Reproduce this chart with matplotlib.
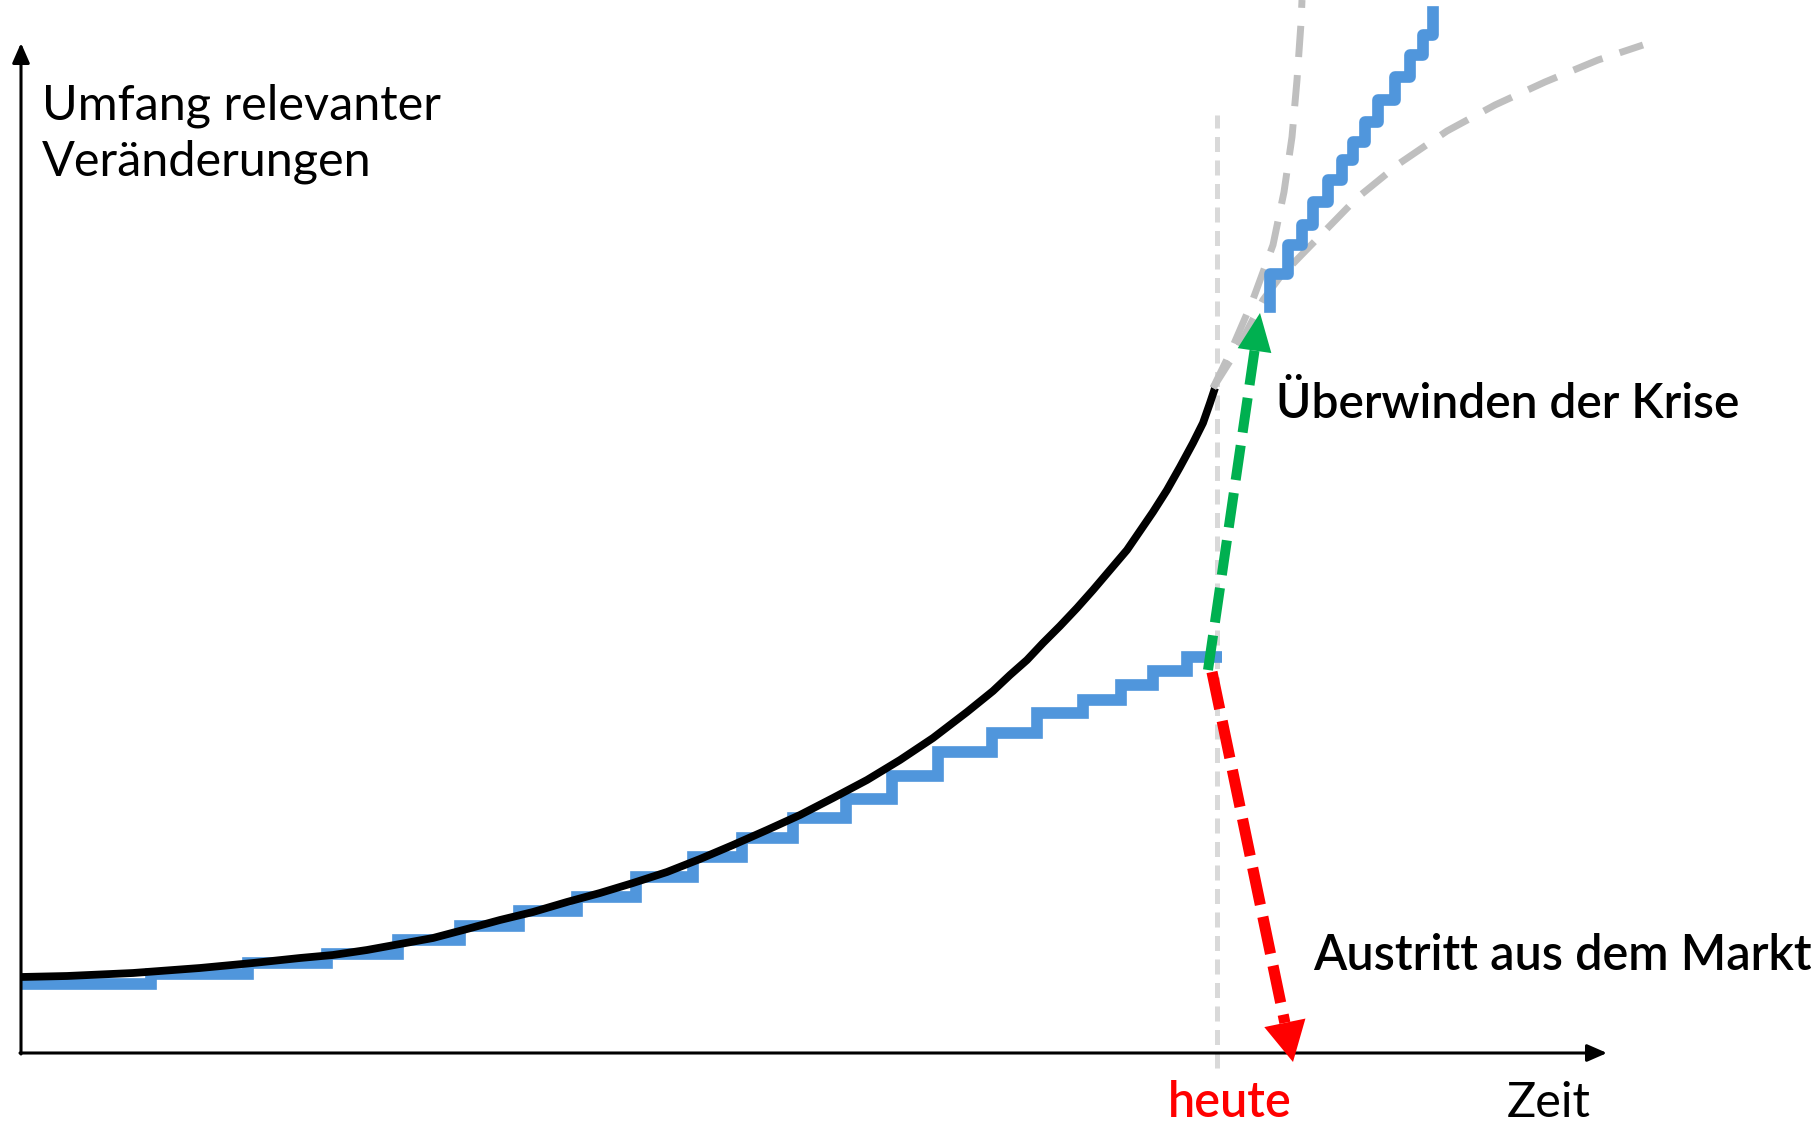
import matplotlib.pyplot as plt
from matplotlib.patches import FancyArrow

plt.rcParams['font.family'] = ['Lato', 'DejaVu Sans']

# black curve: Umfang relevanter Veraenderungen
curve_x = [0, 46, 112, 179, 232, 279, 312, 346, 379, 412, 446, 479, 512, 546, 579, 612,
           646, 679, 712, 746, 779, 812, 846, 879, 912, 946, 972, 989, 1006, 1022, 1039,
           1056, 1072, 1089, 1106, 1119, 1132, 1146, 1159, 1172, 1182, 1189, 1194]
curve_y = [76, 77, 80, 85, 90, 95, 98, 103, 109, 115, 124, 133, 141, 151, 160, 170,
           181, 194, 208, 223, 238, 255, 273, 293, 315, 341, 362, 378, 393, 410, 427,
           445, 463, 483, 503, 522, 541, 563, 586, 610, 630, 650, 665]

# blue steps up to "heute"
step_edges = [0, 130, 227, 306, 377, 439, 498, 556, 615, 672, 721, 772, 825, 871, 917, 971, 1016, 1062, 1100, 1132, 1166, 1201]
step_levels = [69, 79, 90, 99, 113, 127, 142, 156, 176, 196, 215, 235, 254, 277, 301, 320, 340, 353, 368, 382, 396]

# blue steps after overcoming the crisis
up_x = [1249, 1249, 1267, 1281, 1292, 1307, 1321, 1332, 1344, 1357, 1374, 1389, 1402, 1412]
up_y = [746, 779, 808, 828, 851, 873, 893, 911, 931, 953, 976, 998, 1018, 1041]

# grey dashed continuations
steep_x = [1192, 1209, 1231, 1252, 1263, 1271, 1276, 1280, 1281]
steep_y = [665, 700, 751, 808, 861, 916, 973, 1030, 1053]
flat_x = [1192, 1216, 1242, 1259, 1297, 1336, 1379, 1426, 1474, 1524, 1577, 1622]
flat_y = [665, 703, 753, 776, 815, 855, 890, 922, 948, 971, 993, 1008]

heute_x = 1196
heute_span = [-15, 938]

green_start = (1187, 383)
green_tip = (1239, 740)
red_start = (1191, 381)
red_tip = (1272, -9)

x_end = 1586
y_end = 1010

fig = plt.figure(figsize=(18.11, 11.23), dpi=100)
ax = fig.add_axes([0, 0, 1, 1])
ax.set_xlim(-21, 1790)
ax.set_ylim(-70, 1053)
ax.axis('off')

# axes with arrows
ax.annotate('', xy=(x_end, 0), xytext=(-1, 0),
            arrowprops=dict(arrowstyle='-|>,head_length=0.8,head_width=0.35',
                            color='black', lw=2.2, mutation_scale=15,
                            shrinkA=0, shrinkB=0))
ax.annotate('', xy=(0, y_end), xytext=(0, -1),
            arrowprops=dict(arrowstyle='-|>,head_length=0.8,head_width=0.35',
                            color='black', lw=2.2, mutation_scale=15,
                            shrinkA=0, shrinkB=0))

# heute line
ax.plot([heute_x, heute_x], heute_span, color='#D9D9D9', lw=3.6,
        dashes=(3, 1.7), zorder=1)

ax.stairs(step_levels, step_edges, baseline=None, color='#5096DC', lw=8.4, zorder=2)
ax.plot(curve_x, curve_y, color='black', lw=5.6, zorder=3,
        solid_capstyle='butt', solid_joinstyle='round')

ax.plot(steep_x, steep_y, color='#BFBFBF', lw=5, dashes=(4.5, 2.6), zorder=4)
ax.plot(flat_x, flat_y, color='#BFBFBF', lw=5, dashes=(4.5, 2.6), zorder=4)

ax.step(up_x, up_y, where='post', color='#5096DC', lw=8.4, zorder=5)


def dashed_arrow(start, tip, color, lw, dashes, head_len, head_w):
    dx = tip[0] - start[0]
    dy = tip[1] - start[1]
    length = (dx ** 2 + dy ** 2) ** 0.5
    ux, uy = dx / length, dy / length
    base = (tip[0] - ux * head_len, tip[1] - uy * head_len)
    ax.plot([start[0], base[0]], [start[1], base[1]], color=color, lw=lw,
            dashes=dashes, dash_capstyle='butt', zorder=6)
    ax.add_patch(FancyArrow(base[0], base[1], tip[0] - base[0], tip[1] - base[1],
                            width=0, head_width=head_w, head_length=head_len,
                            length_includes_head=True, color=color, lw=0, zorder=6))


dashed_arrow(green_start, green_tip, '#00B050', 7.2, (3.5, 1.3), 38, 34)
dashed_arrow(red_start, red_tip, '#FF0000', 8, (3.4, 1.1), 40, 42)

# texts
ax.text(21, 934, 'Umfang relevanter', fontsize=35, va='baseline')
ax.text(21, 878, 'Veränderungen', fontsize=35, va='baseline')
ax.text(1255, 635, 'Überwinden der Krise', fontsize=34.5, fontweight='semibold', va='baseline')
ax.text(1292, 83, 'Austritt aus dem Markt', fontsize=35, fontweight='semibold', va='baseline')
ax.text(1147, -64, 'heute', fontsize=35, fontweight='semibold', color='#FF0000', va='baseline')
ax.text(1486, -64, 'Zeit', fontsize=35, va='baseline')

fig.savefig('out.png', dpi=100)
